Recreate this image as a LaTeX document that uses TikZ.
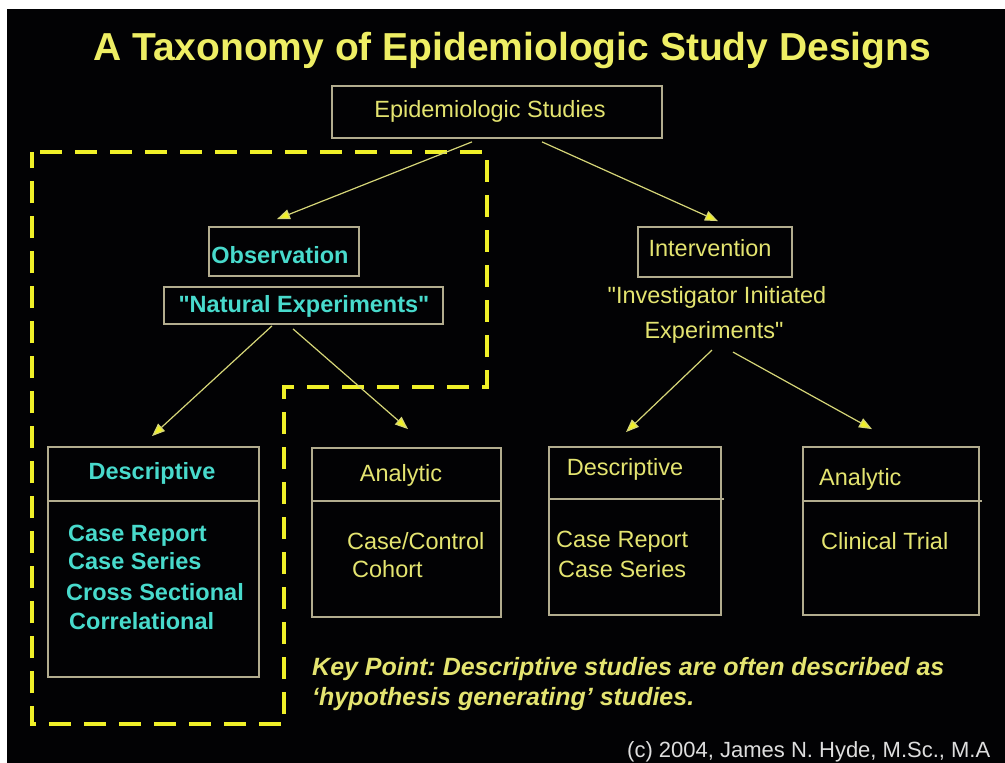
\documentclass[tikz,border=0pt]{standalone}
\usepackage{fontspec}
\setmainfont{Liberation Sans}[Ligatures=TeXOff]
\usetikzlibrary{arrows.meta}
\frenchspacing

\definecolor{bgblack}{RGB}{2,2,4}
\definecolor{titleyellow}{RGB}{238,238,100}
\definecolor{txtyellow}{RGB}{228,228,112}
\definecolor{cyantxt}{RGB}{72,218,204}
\definecolor{boxline}{RGB}{178,172,142}
\definecolor{dashyellow}{RGB}{240,240,40}
\definecolor{arrowline}{RGB}{214,214,120}
\definecolor{copygray}{RGB}{222,222,222}

\begin{document}
\begin{tikzpicture}[x=1pt,y=-1pt,
  box/.style={draw=boxline, line width=1.8pt, inner sep=0pt},
  divider/.style={draw=boxline, line width=1.8pt},
  lbl/.style={inner sep=0pt, anchor=base, font=\fontsize{23.5}{28}\selectfont},
  lblw/.style={lbl, anchor=base west},
  yel/.style={text=txtyellow},
  cyn/.style={text=cyantxt, font=\fontsize{23.5}{28}\selectfont\bfseries},
  arr/.style={draw=arrowline, line width=1.2pt,
    -{Triangle[length=13pt,width=10pt,fill=dashyellow]}},
  dashbox/.style={draw=dashyellow, line width=4.5pt,
    dash pattern=on 22pt off 13pt, dash phase=27pt}
]
\useasboundingbox (0,0) rectangle (1005,763);
\fill[white] (0,0) rectangle (1005,763);
\fill[bgblack] (7,9) rectangle (1005,763);

% title
\node[inner sep=0pt, anchor=base, text=titleyellow,
      font=\fontsize{39}{46}\selectfont\bfseries] (title) at (512,60)
  {A Taxonomy of Epidemiologic Study Designs};

% dashed outline around the observational / descriptive branch
\draw[dashbox] (32,152) -- (487,152) -- (487,387) -- (284,387)
  -- (284,724) -- (32,724) -- cycle;

% top box
\node[box, minimum width=330pt, minimum height=52pt] (epi) at (497,112) {};
\node[lbl, yel] (epitxt) at (490,117) {Epidemiologic Studies};

% observation branch
\node[box, minimum width=150pt, minimum height=49pt] (obs) at (284,251.5) {};
\node[lbl, cyn] (obstxt) at (280,263) {Observation};
\node[box, minimum width=279pt, minimum height=37pt] (nat) at (303.5,305.5) {};
\node[lbl, cyn] (nattxt) at (304,312) {"Natural Experiments"};

% intervention branch
\node[box, minimum width=154pt, minimum height=50pt] (int) at (715,252) {};
\node[lbl, yel] (inttxt) at (710,256) {Intervention};
\node[lbl, yel] (inv1) at (717,303) {"Investigator Initiated};
\node[lbl, yel] (inv2) at (714,338) {Experiments"};

% lower boxes
\node[box, minimum width=211pt, minimum height=230pt] (d1) at (153.5,562) {};
\draw[divider] (d1.west |- 0,501) -- (d1.east |- 0,501);
\node[lbl, cyn] (d1t) at (152,479) {Descriptive};
\node[lblw, cyn] (d1a) at (68,541) {Case Report};
\node[lblw, cyn] (d1b) at (68,569) {Case Series};
\node[lblw, cyn] (d1c) at (66,600) {Cross Sectional};
\node[lblw, cyn] (d1d) at (69,629) {Correlational};

\node[box, minimum width=189pt, minimum height=169pt] (a1) at (406.5,532.5) {};
\draw[divider] (a1.west |- 0,501) -- (a1.east |- 0,501);
\node[lbl, yel] (a1t) at (401,481) {Analytic};
\node[lblw, yel] (a1a) at (347,549) {Case/Control};
\node[lblw, yel] (a1b) at (352,577) {Cohort};

\node[box, minimum width=172pt, minimum height=168pt] (d2) at (635,531) {};
\draw[divider] (d2.west |- 0,499) -- ([xshift=2pt]d2.east |- 0,499);
\node[lbl, yel] (d2t) at (625,475) {Descriptive};
\node[lblw, yel] (d2a) at (556,547) {Case Report};
\node[lblw, yel] (d2b) at (558,577) {Case Series};

\node[box, minimum width=176pt, minimum height=168pt] (a2) at (891,531) {};
\draw[divider] (a2.west |- 0,501) -- ([xshift=2pt]a2.east |- 0,501);
\node[lblw, yel] (a2t) at (819,485) {Analytic};
\node[lblw, yel] (a2a) at (821,549) {Clinical Trial};

% connectors
\draw[arr] ([shift={(-25,3)}]epi.south) -- ([shift={(-7,-7)}]obs.north);
\draw[arr] ([shift={(45,3)}]epi.south) -- ([shift={(3,-5)}]int.north);
\draw[arr] ([shift={(-31.5,1)}]nat.south) -- ([shift={(-1.5,-10)}]d1.north);
\draw[arr] ([shift={(-10.5,4)}]nat.south) -- ([shift={(1.5,-18)}]a1.north);
\draw[arr] ([shift={(-2,7)}]inv2.south) -- ([shift={(-9,-14)}]d2.north);
\draw[arr] ([shift={(19,9)}]inv2.south) -- ([shift={(-19,-17)}]a2.north);

% key point note
\node[inner sep=0pt, anchor=base west, text=txtyellow,
      font=\fontsize{25}{30}\selectfont\bfseries\itshape] (key1) at (312,675)
  {Key Point: Descriptive studies are often described as};
\node[inner sep=0pt, anchor=base west, text=txtyellow,
      font=\fontsize{25}{30}\selectfont\bfseries\itshape] (key2) at (312,705)
  {‘hypothesis generating’ studies.};

% credit line
\node[inner sep=0pt, anchor=base west, text=copygray,
      font=\fontsize{22}{26}\selectfont] (credit) at (627,757)
  {(c) 2004, James N. Hyde, M.Sc., M.A};
\end{tikzpicture}
\end{document}
